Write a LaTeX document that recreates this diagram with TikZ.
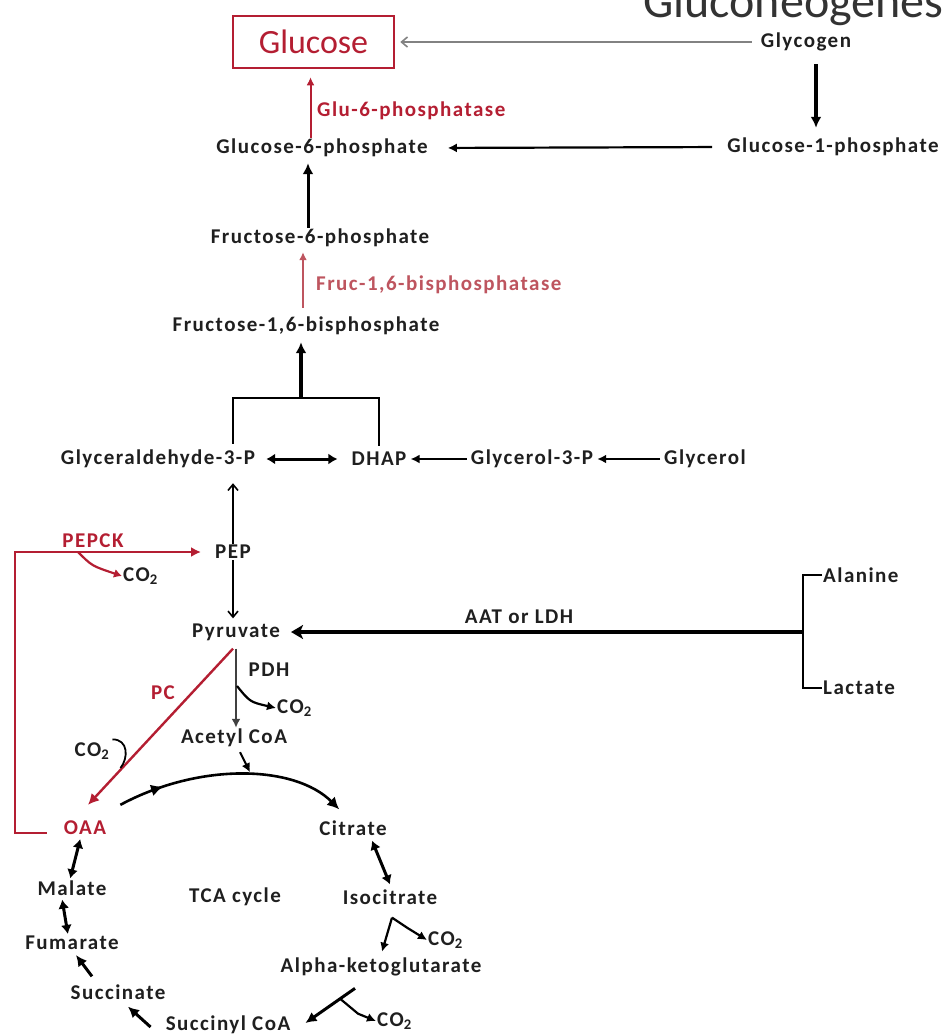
\documentclass[tikz,border=0pt]{standalone}
\usepackage{fontspec}
\setmainfont{Carlito}
\newfontfamily\lblfont[LetterSpace=7]{Carlito}
\usetikzlibrary{arrows.meta,decorations.markings,calc}
\definecolor{dred}{RGB}{180,30,50}
\definecolor{pred}{RGB}{190,85,95}
\newcommand{\COtwo}{CO\textsubscript{2}}
\begin{document}
\begin{tikzpicture}[x=1pt,y=-1pt,
  lbl/.style={font=\lblfont\bfseries\fontsize{21}{23}\selectfont, text=black!88, inner sep=1pt},
  enz/.style={lbl, text=dred},
  thinarr/.style={draw=black, line width=1.6pt, -{Straight Barb[length=6pt,width=10pt]}},
  medarr/.style={draw=black, line width=2.2pt, -{Latex[length=9pt,width=9pt]}},
  bigarr/.style={draw=black, line width=3pt, -{Latex[length=11pt,width=11pt]}},
  redarr/.style={draw=dred, line width=2pt, -{Latex[length=8pt,width=8pt]}},
  dbl/.style={draw=black, line width=3pt, {Latex[length=9pt,width=11pt]}-{Latex[length=9pt,width=11pt]}},
  midarrow/.style={postaction={decorate}, decoration={markings, mark=at position 0.2 with {\arrow{Latex[length=12pt,width=12pt]}}}},
]
\useasboundingbox (0,0) rectangle (943,1034);
\clip (0,0) rectangle (943,1034);

% title
\node[font=\fontsize{48}{50}\selectfont, text=black!80, anchor=base west, inner sep=0pt] (title) at (643,17) {Gluconeogenesis};

% nodes
\node[draw=dred, line width=2.5pt, minimum width=161pt, minimum height=52pt, text=dred, font=\fontsize{34}{36}\selectfont, inner sep=0pt] (glc) at (313.5,42) {Glucose};
\node[lbl] (glycogen) at (806,42) {Glycogen};
\node[lbl] (g1p) at (833,147) {Glucose-1-phosphate};
\node[lbl] (g6p) at (322,148) {Glucose-6-phosphate};
\node[enz, anchor=west] (g6pase) at (316,111) {Glu-6-phosphatase};
\node[lbl] (f6p) at (320,238) {Fructose-6-phosphate};
\node[enz, anchor=west, text=pred] (fbpase) at (315,285) {Fruc-1,6-bisphosphatase};
\node[lbl] (f16) at (306,326) {Fructose-1,6-bisphosphate};
\node[lbl] (g3p) at (158,459) {Glyceraldehyde-3-P};
\node[lbl] (dhap) at (379,459) {DHAP};
\node[lbl] (gly3p) at (532,459) {Glycerol-3-P};
\node[lbl] (glycerol) at (705,459) {Glycerol};
\node[lbl] (pep) at (233,552) {PEP};
\node[enz] (pepck) at (93,541) {PEPCK};
\node[lbl, anchor=west] (co2a) at (122,576) {\COtwo};
\node[lbl] (pyr) at (236,632) {Pyruvate};
\node[lbl] (aat) at (519,617) {AAT or LDH};
\node[lbl, anchor=west] (ala) at (822,575) {Alanine};
\node[lbl, anchor=west] (lac) at (822,688) {Lactate};
\node[lbl] (pdh) at (269,670) {PDH};
\node[lbl, anchor=west] (co2b) at (276,708) {\COtwo};
\node[enz] (pc) at (163,693) {PC};
\node[lbl] (co2c) at (92,751) {\COtwo};
\node[lbl] (acoa) at (234,738) {Acetyl CoA};
\node[enz] (oaa) at (85,828) {OAA};
\node[lbl] (citrate) at (353,828) {Citrate};
\node[lbl] (malate) at (72,888) {Malate};
\node[lbl] (tca) at (235,897) {TCA cycle};
\node[lbl] (iso) at (390,897) {Isocitrate};
\node[lbl] (fum) at (72,943) {Fumarate};
\node[lbl, anchor=west] (co2d) at (427,940) {\COtwo};
\node[lbl] (akg) at (381,967) {Alpha-ketoglutarate};
\node[lbl] (succ) at (118,992) {Succinate};
\node[lbl] (sucoa) at (228,1025) {Succinyl CoA};
\node[lbl, anchor=west] (co2e) at (376,1021) {\COtwo};

% top part
\draw[draw=gray!60!black!70, line width=1.6pt, -{Straight Barb[length=6pt,width=10pt]}, shorten <=8pt, shorten >=5pt] (glycogen.west) -- (glc.east);
\draw[bigarr, line width=3.2pt, shorten <=12pt, shorten >=9pt] ([xshift=10pt]glycogen.south) -- ([xshift=10pt]glycogen.south |- g1p.north);
\draw[medarr, shorten <=14pt, shorten >=19pt] (g1p.west) -- (g6p.east);
\draw[redarr, shorten >=8pt] ([xshift=-3pt]glc.south |- g6p.north) -- ([xshift=-3pt]glc.south);
\draw[bigarr, shorten >=5pt] ([xshift=-12pt]f6p.north) -- ([xshift=-12pt]f6p.north |- g6p.south);
\draw[redarr, draw=pred, shorten <=8pt, shorten >=4pt] ([xshift=-3pt]f16.north) -- ([xshift=-3pt]f16.north |- f6p.south);

% bracket to F1,6BP
\coordinate (btop) at (301,398);
\draw[line width=2.6pt] ([yshift=5pt]pep |- g3p.north) |- (btop) -| ([yshift=5pt]dhap.north);
\draw[bigarr, line width=3.5pt, shorten >=6pt] (btop) -- (btop |- f16.south);

% triose row
\draw[dbl, shorten <=10pt, shorten >=13pt] (g3p.east) -- (dhap.west);
\draw[medarr, line width=2pt, shorten <=3pt, shorten >=3pt] (gly3p.west) -- (dhap.east);
\draw[medarr, line width=2pt, shorten <=3pt, shorten >=3pt] (glycerol.west) -- (gly3p.east);

% PEP
\draw[thinarr, shorten >=14pt] (pep.north) -- (pep.north |- g3p.south);
\draw[thinarr, shorten >=4pt] (pep.south) -- (pep.south |- pyr.north);

% PEPCK
\coordinate (pk1) at (15,833);
\coordinate (pk2) at (15,552);
\coordinate (pkb) at (78,552);
\draw[draw=dred, line width=2.4pt, -{Latex[length=10pt,width=10pt]}, shorten >=13pt] ([xshift=-16pt]oaa.west |- pk1) -- (pk1) -- (pk2) -- (pep.west);
\draw[draw=dred, line width=2.2pt, -{Latex[length=8pt,width=9pt]}] (pkb) .. controls (92,566) .. (co2a.west);

% AAT / LDH
\coordinate (rb) at (803,632);
\draw[line width=2.6pt] (ala.west) -| (rb) |- (lac.west);
\draw[line width=3.4pt, -{Stealth[length=12pt,width=14pt,inset=3pt]}, shorten >=10pt] (rb) -- (pyr.east);

% pyruvate branches
\draw[medarr, draw=black!75, shorten <=7pt] (pyr.south) -- (pyr.south |- acoa.north);
\coordinate (pdhb) at (237,686);
\draw[medarr] (pdhb) .. controls (250,702) .. (co2b.west);
\draw[draw=dred, line width=2.4pt, -{Latex[length=11pt,width=11pt]}] ($(pyr.south)+(-3,7)$) -- ($(oaa.north)+(3,-15)$);
\draw[line width=1.8pt] ($(co2c.north east)+(2,-2)$) .. controls +(16,0) and +(8,-10) .. ($(co2c.east)+(10,17)$);

% TCA arc
\draw[line width=2.6pt, midarrow, -{Latex[length=12pt,width=12pt]}] ($(oaa.north east)+(13,-15)$) .. controls (200,762) and (295,765) .. ($(citrate.north west)+(21,-10)$);
\draw[medarr, line width=2pt] ($(acoa.south)+(6,4)$) -- ($(acoa.south)+(16,24)$);

% TCA steps
\draw[dbl, shorten <=3pt, shorten >=1pt] ($(oaa.south)+(-4,0)$) -- ($(malate.north)+(-2,0)$);
\draw[dbl, shorten <=1pt, shorten >=1pt] ($(malate.south)+(-10,2)$) -- ($(fum.north)+(-4,0)$);
\draw[dbl] ($(citrate.south)+(19,4)$) -- ($(iso.north)+(0,-4)$);
\coordinate (isoapex) at ($(iso.south)+(2,12)$);
\draw[medarr] (isoapex) -- ($(akg.north)+(1,-5)$);
\draw[medarr] (isoapex) -- ++(15,10) -- (co2d.west);
\coordinate (akgb) at ($(akg.south)+(-26,11)$);
\draw[bigarr] (akgb) -- ($(sucoa.east)+(14,-2)$);
\coordinate (akgb2) at ($(akgb)!0.3!($(sucoa.east)+(14,-2)$)$);
\draw[medarr] (akgb2) -- ++(18,15) -- (co2e.west);
\draw[bigarr] ($(sucoa.west)+(-14,2)$) -- ($(succ.south)+(10,6)$);
\draw[bigarr] ($(succ.north)+(-26,-7)$) -- ($(fum.south)+(4,4)$);
\end{tikzpicture}
\end{document}
